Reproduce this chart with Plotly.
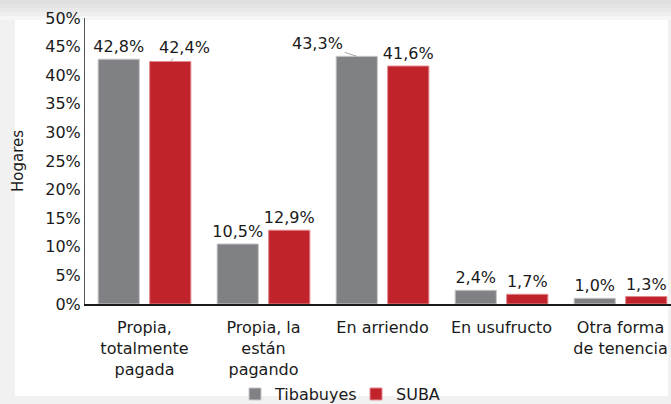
import plotly.graph_objects as go

categories = ["Propia,<br>totalmente<br>pagada", "Propia, la<br>están<br>pagando", "En arriendo", "En usufructo", "Otra forma<br>de tenencia"]
tibabuyes = [42.8, 10.5, 43.3, 2.4, 1.0]
suba = [42.4, 12.9, 41.6, 1.7, 1.3]
series_names = ["Tibabuyes", "SUBA"]
y_ticks = [0, 5, 10, 15, 20, 25, 30, 35, 40, 45, 50]

GRAY = "#808184"
RED = "#c1232b"
FONT = "DejaVu Sans"

def fmt(v):
    return f"{v:.1f}".replace(".", ",") + "%"

x = list(range(len(categories)))
W, H = 671, 404
ML, MR, MT, MB = 85, 0, 18, 100
plot_w = W - ML - MR
plot_h = H - MT - MB
cat_px = 119
xmax = -0.5 + plot_w / cat_px

# labels placed via annotations with leader lines: (series, index): (ax, ay)
special = {(1, 0): (14, -14), (0, 2): (-39, -13)}
tib_text = [("" if (0, i) in special else fmt(v)) for i, v in enumerate(tibabuyes)]
suba_text = [("" if (1, i) in special else fmt(v)) for i, v in enumerate(suba)]

fig = go.Figure()
fig.add_trace(go.Bar(
    x=x, y=tibabuyes, name=series_names[0], marker=dict(color=GRAY, line=dict(color="#c8c8ca", width=1)),
    text=tib_text, textposition="outside", cliponaxis=False, constraintext="none",
    textfont=dict(family=FONT, size=16, color="#1a1a1a"),
))
fig.add_trace(go.Bar(
    x=x, y=suba, name=series_names[1], marker=dict(color=RED, line=dict(color="#e08a8f", width=1)),
    text=suba_text, textposition="outside", cliponaxis=False, constraintext="none",
    textfont=dict(family=FONT, size=16, color="#1a1a1a"),
))

bargap = 0.134
slot = (1 - bargap) / 2
annotations = []
for (s, i), (ax, ay) in special.items():
    vals = tibabuyes if s == 0 else suba
    off = -slot / 2 if s == 0 else slot / 2
    annotations.append(dict(
        x=i + off, y=vals[i], xref="x", yref="y", text=fmt(vals[i]),
        showarrow=True, arrowhead=0, arrowwidth=1, arrowcolor="#a6a6a6",
        ax=ax, ay=ay, standoff=0,
        font=dict(family=FONT, size=16, color="#1a1a1a"),
    ))

def px_x(p):
    return (p - ML) / plot_w
def px_y(p):
    return (H - MB - p) / plot_h

shapes = []
grads = [(0, "#e0e0e0"), (4, "#e4e4e4"), (8, "#e9e9e9"), (12, "#efefef"), (16, "#f6f6f6")]
for k, (y0, c) in enumerate(grads):
    y1 = grads[k + 1][0] if k + 1 < len(grads) else 20
    shapes.append(dict(type="rect", xref="paper", yref="paper", x0=px_x(0), x1=px_x(W),
                       y0=px_y(y1), y1=px_y(y0), fillcolor=c, line=dict(width=0), layer="below"))
shapes.append(dict(type="rect", xref="paper", yref="paper", x0=px_x(15), x1=px_x(668),
                   y0=px_y(396), y1=px_y(20), fillcolor="white", line=dict(width=0), layer="below"))

fig.update_layout(
    width=W, height=H,
    margin=dict(l=ML, r=MR, t=MT, b=MB, autoexpand=False),
    paper_bgcolor="#f1f1f1",
    plot_bgcolor="rgba(0,0,0,0)",
    barmode="group", bargap=bargap, bargroupgap=0.2,
    font=dict(family=FONT, size=16, color="#1a1a1a"),
    xaxis=dict(range=[-0.5, xmax], tickvals=x, ticktext=categories, showline=True,
               linecolor="#1a1a1a", linewidth=1.5, ticks="", showgrid=False, automargin=False,
               tickfont=dict(family=FONT, size=16), zeroline=False, ticklabelstandoff=8),
    yaxis=dict(range=[0, 50], tickvals=y_ticks, ticktext=[f"{t}%" for t in y_ticks],
               showline=True, linecolor="#555555", linewidth=1, ticks="", showgrid=False,
               zeroline=False, tickfont=dict(family=FONT, size=16), automargin=False,
               title=dict(text="Hogares", font=dict(family=FONT, size=15), standoff=17)),
    legend=dict(orientation="h", x=0.256, xanchor="left", y=-0.2555, yanchor="top",
                font=dict(family=FONT, size=16), itemwidth=30, entrywidth=76,
                entrywidthmode="pixels", traceorder="normal", bgcolor="rgba(0,0,0,0)"),
    annotations=annotations,
    shapes=shapes,
    showlegend=True,
)

fig.write_html("out.html", config={"displayModeBar": False},
               post_script="document.body.style.margin='0';document.body.style.padding='0';")
